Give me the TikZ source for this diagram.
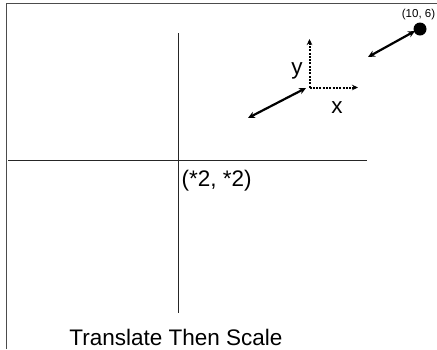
\documentclass[tikz,border=0pt]{standalone}
\usepackage{fontspec}
\setmainfont{Liberation Sans}
\usetikzlibrary{arrows.meta}
\begin{document}
\begin{tikzpicture}[x=1pt,y=-1pt,
  frame/.style={draw=black!70, line width=1pt},
  axis/.style={draw=black!85, line width=0.9pt},
  vec/.style={line width=2.2pt, {Stealth[length=7pt,width=6.5pt]}-{Stealth[length=7pt,width=6.5pt]}},
  dotvec/.style={line width=2pt, dash pattern=on 2pt off 1.3pt, -{Stealth[length=6pt,width=5.5pt]}},
  lbl/.style={inner sep=0pt, font=\fontsize{22.5}{24}\selectfont}]
\useasboundingbox (0,0) rectangle (437,349);
% frame
\coordinate (fl) at (6,349);
\coordinate (ftl) at (6,3);
\coordinate (ftr) at (437,3);
\draw[frame] (fl) -- (ftl) -- (ftr);
% axes
\coordinate (vt) at (178,33);
\coordinate (vb) at (178,313);
\coordinate (hl) at (8,160);
\coordinate (hr) at (367,160);
\draw[axis] (vt) -- (vb);
\draw[axis] (hl) -- (hr);
\node[lbl, anchor=base west] (scl) at (181.5,186.7) {(*2, *2)};
% top point
\node[circle, fill=black, inner sep=0pt, minimum size=13pt] (pt) at (420,29) {};
\node[inner sep=0pt, anchor=base, font=\fontsize{11.5}{12}\selectfont] (ptl) at (418.5,17) {(10, 6)};
\coordinate (a1) at (368,57);
\coordinate (a2) at (415,31);
\draw[vec] (a1) -- (a2);
% second vector
\coordinate (b1) at (248,118);
\coordinate (b2) at (306,88);
\draw[vec] (b1) -- (b2);
% local frame
\coordinate (o) at (309.5,87.5);
\coordinate (oy) at (309.5,39);
\coordinate (ox) at (358,87.5);
\draw[dotvec] (o) -- (oy);
\draw[dotvec] (o) -- (ox);
\node[lbl, anchor=base] (ylbl) at (297,74) {y};
\node[lbl, anchor=base] (xlbl) at (337,113) {x};
\node[lbl, anchor=base] (title) at (176,345.5) {Translate Then Scale};
\end{tikzpicture}
\end{document}
